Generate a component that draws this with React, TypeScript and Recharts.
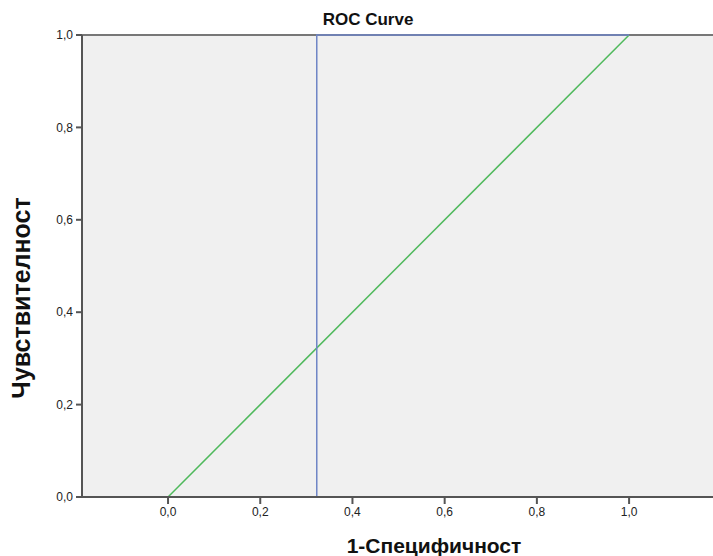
import { CartesianGrid, Line, LineChart, ReferenceLine, XAxis, YAxis } from "recharts";

// ROC curve: blue = test curve, green = reference diagonal
const rocCurve = [
  { x: 0, y: 0 },
  { x: 0.3226, y: 0 },
  { x: 0.3226, y: 1 },
  { x: 1, y: 1 },
];

const diagonal = [
  { x: 0, y: 0 },
  { x: 1, y: 1 },
];

const xTicks = [0, 0.2, 0.4, 0.6, 0.8, 1];
const yTicks = [0, 0.2, 0.4, 0.6, 0.8, 1];

const fmt = (v: number) => v.toFixed(1).replace(".", ",");

const font = "'Liberation Sans', Arial, sans-serif";

export default function App() {
  return (
    <div style={{ position: "absolute", left: 0, top: 0, width: 713, height: 556, background: "#fff", fontFamily: font }}>
      <LineChart width={713} height={556} margin={{ top: 35, right: 0, bottom: 0, left: 0 }}>
        <CartesianGrid fill="#f0f0f0" horizontal={false} vertical={false} />
        <XAxis
          type="number"
          dataKey="x"
          domain={[-0.1866, 1.182]}
          allowDataOverflow
          ticks={xTicks}
          tickFormatter={fmt}
          height={59}
          tickSize={7}
          tickMargin={3}
          axisLine={{ stroke: "#555", strokeWidth: 2 }}
          tickLine={{ stroke: "#555", strokeWidth: 2 }}
          tick={{ fill: "#222", fontSize: 12, fontFamily: font }}
        />
        <YAxis
          type="number"
          dataKey="y"
          domain={[0, 1]}
          ticks={yTicks}
          tickFormatter={fmt}
          width={82}
          tickSize={6}
          tickMargin={3}
          axisLine={{ stroke: "#555", strokeWidth: 2 }}
          tickLine={{ stroke: "#555", strokeWidth: 2 }}
          tick={{ fill: "#222", fontSize: 12, fontFamily: font }}
        />
        <ReferenceLine y={1} stroke="#777" strokeWidth={2} />
        <Line
          data={diagonal}
          dataKey="y"
          type="linear"
          stroke="#4fb95c"
          strokeWidth={1.5}
          dot={false}
          isAnimationActive={false}
        />
        <Line
          data={rocCurve}
          dataKey="y"
          type="linear"
          stroke="#6f85c6"
          strokeWidth={1.5}
          dot={false}
          isAnimationActive={false}
        />
      </LineChart>
      <div style={{ position: "absolute", left: 268, top: 10, width: 200, textAlign: "center", fontSize: 17, fontWeight: "bold", color: "#111" }}>
        ROC Curve
      </div>
      <div style={{ position: "absolute", left: 284, top: 534, width: 300, textAlign: "center", fontSize: 21, fontWeight: "bold", color: "#111" }}>
        1-Специфичност
      </div>
      <div
        style={{
          position: "absolute",
          left: 21,
          top: 298,
          transform: "translate(-50%, -50%) rotate(-90deg)",
          whiteSpace: "nowrap",
          fontSize: 25,
          fontWeight: "bold",
          color: "#111",
        }}
      >
        Чувствителност
      </div>
    </div>
  );
}
